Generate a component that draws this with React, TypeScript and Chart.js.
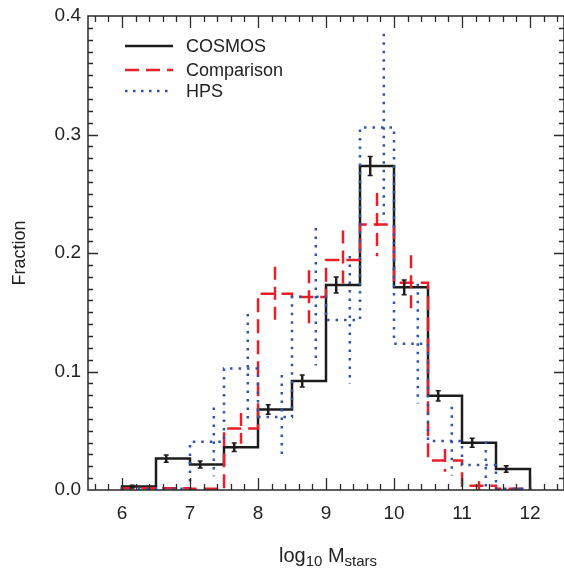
import React, { useEffect, useRef } from "react";
import { Chart, registerables } from "chart.js";

Chart.register(...registerables);

// ---------- data ----------
const binEdges = [6.0, 6.5, 7.0, 7.5, 8.0, 8.5, 9.0, 9.5, 10.0, 10.5, 11.0, 11.5, 12.0];

const cosmosValues = [0.003, 0.0265, 0.0215, 0.036, 0.068, 0.092, 0.173, 0.2735, 0.171, 0.0795, 0.0398, 0.0177];
const cosmosErrors = [0.001, 0.003, 0.003, 0.0036, 0.004, 0.005, 0.0067, 0.008, 0.0063, 0.0043, 0.0038, 0.0028];
const cosmosErrX = [6.15, 6.65, 7.15, 7.65, 8.15, 8.65, 9.15, 9.65, 10.15, 10.65, 11.15, 11.65];

const comparisonValues = [0.0015, 0.0015, 0.001, 0.052, 0.1656, 0.1628, 0.194, 0.224, 0.175, 0.025, 0.0035, 0.001];
const comparisonErrors = [0, 0, 0, 0.013, 0.0227, 0.0227, 0.025, 0.0267, 0.023, 0.0095, 0.004, 0];
const comparisonErrX = [6.25, 6.75, 7.25, 7.75, 8.25, 8.75, 9.25, 9.75, 10.25, 10.75, 11.25, 11.75];

const hpsValues = [0.001, 0.001, 0.0407, 0.1025, 0.0615, 0.163, 0.1435, 0.306, 0.1235, 0.0413, 0.021, 0.001];
const hpsErrors = [0, 0, 0.029, 0.046, 0.0355, 0.058, 0.054, 0.079, 0.0505, 0.029, 0.02, 0.001];
const hpsErrX = [6.35, 6.85, 7.35, 7.85, 8.35, 8.85, 9.35, 9.85, 10.35, 10.85, 11.35, 11.85];

const xTickValues = [6, 7, 8, 9, 10, 11, 12];
const yTickValues = [0, 0.1, 0.2, 0.3, 0.4];

const seriesLabels = ["COSMOS", "Comparison", "HPS"];

// ---------- styles ----------
const FONT = "'Liberation Sans', Arial, Helvetica, sans-serif";
const BLACK = "#1c1c1c";
const RED = "rgb(232, 30, 40)";
const BLUE = "rgb(50, 82, 172)";
const RED_DASH = [14, 7];
const BLUE_DASH = [2.5, 6];

// points at bin edges: value of bin i starts at edge i (step drawn horizontal-first)
function stepData(values: number[]) {
  const pts: { x: number; y: number }[] = [{ x: binEdges[0], y: 0 }];
  values.forEach((v, i) => pts.push({ x: binEdges[i], y: v }));
  pts.push({ x: binEdges[binEdges.length - 1], y: 0 });
  return pts;
}

const decorPlugin = {
  id: "decor",
  afterDatasetsDraw(chart: any) {
    const { ctx, chartArea: a, scales } = chart;
    const xs = scales.x;
    const ys = scales.y;
    ctx.save();

    // error bars
    const drawErr = (
      xv: number[],
      vals: number[],
      errs: number[],
      color: string,
      dash: number[],
      width: number,
      cap: number
    ) => {
      ctx.strokeStyle = color;
      ctx.lineWidth = width;
      ctx.lineCap = "butt";
      xv.forEach((xx, i) => {
        if (!errs[i]) return;
        const px = xs.getPixelForValue(xx);
        const top = ys.getPixelForValue(vals[i] + errs[i]);
        const bot = ys.getPixelForValue(Math.max(0, vals[i] - errs[i]));
        ctx.setLineDash(dash);
        ctx.beginPath();
        ctx.moveTo(px, top);
        ctx.lineTo(px, bot);
        ctx.stroke();
        if (cap > 0) {
          ctx.setLineDash([]);
          ctx.lineWidth = 1.5;
          ctx.beginPath();
          ctx.moveTo(px - cap, top);
          ctx.lineTo(px + cap, top);
          ctx.moveTo(px - cap, bot);
          ctx.lineTo(px + cap, bot);
          ctx.stroke();
          ctx.lineWidth = width;
        }
      });
    };
    drawErr(comparisonErrX, comparisonValues, comparisonErrors, RED, [13, 7], 2.5, 0);
    drawErr(hpsErrX, hpsValues, hpsErrors, BLUE, BLUE_DASH, 2.5, 0);
    drawErr(cosmosErrX, cosmosValues, cosmosErrors, BLACK, [], 2.5, 2.5);

    // frame
    ctx.setLineDash([]);
    ctx.strokeStyle = "#2a2a2a";
    ctx.lineWidth = 1.5;
    ctx.strokeRect(a.left, a.top, a.right - a.left, a.bottom - a.top);

    // ticks
    ctx.lineWidth = 1.3;
    ctx.beginPath();
    for (let i = 28; i <= 62; i++) {
      const v = i / 5;
      const major = i % 5 === 0;
      const len = major ? 12 : 6;
      const px = Math.round(xs.getPixelForValue(v)) + 0.5;
      ctx.moveTo(px, a.bottom);
      ctx.lineTo(px, a.bottom - len);
      ctx.moveTo(px, a.top);
      ctx.lineTo(px, a.top + len);
    }
    for (let i = 1; i < 40; i++) {
      const v = i / 100;
      const major = i % 10 === 0;
      const len = major ? 10 : 5;
      const py = Math.round(ys.getPixelForValue(v)) + 0.5;
      ctx.moveTo(a.left, py);
      ctx.lineTo(a.left + len, py);
      ctx.moveTo(a.right, py);
      ctx.lineTo(a.right - len, py);
    }
    ctx.stroke();

    // legend
    const legend = [
      { label: seriesLabels[0], color: BLACK, dash: [] as number[] },
      { label: seriesLabels[1], color: RED, dash: RED_DASH },
      { label: seriesLabels[2], color: BLUE, dash: [2.5, 5.5] },
    ];
    const rowY = [30, 54, 75];
    legend.forEach((it, i) => {
      const yy = a.top + rowY[i];
      ctx.strokeStyle = it.color;
      ctx.lineWidth = 2.5;
      ctx.setLineDash(it.dash);
      ctx.beginPath();
      ctx.moveTo(a.left + 37, yy);
      ctx.lineTo(a.left + 85, yy);
      ctx.stroke();
      ctx.setLineDash([]);
      ctx.fillStyle = "#222";
      ctx.font = `18px ${FONT}`;
      ctx.textAlign = "left";
      ctx.textBaseline = "middle";
      ctx.fillText(it.label, a.left + 98, yy + 1);
    });

    // y title
    ctx.save();
    ctx.translate(20, (a.top + a.bottom) / 2);
    ctx.rotate(-Math.PI / 2);
    ctx.font = `18px ${FONT}`;
    ctx.textAlign = "center";
    ctx.textBaseline = "middle";
    ctx.fillStyle = "#222";
    ctx.fillText("Fraction", 0, 0);
    ctx.restore();

    // x title: log10 Mstars with subscripts
    const parts = [
      { t: "log", size: 20, dy: 0 },
      { t: "10", size: 15, dy: 4 },
      { t: " M", size: 20, dy: 0 },
      { t: "stars", size: 15, dy: 4 },
    ];
    let total = 0;
    parts.forEach((p) => {
      ctx.font = `${p.size}px ${FONT}`;
      total += ctx.measureText(p.t).width;
    });
    let cx = (a.left + a.right) / 2 - total / 2 + 2;
    const base = 562;
    ctx.textAlign = "left";
    ctx.textBaseline = "alphabetic";
    ctx.fillStyle = "#222";
    parts.forEach((p) => {
      ctx.font = `${p.size}px ${FONT}`;
      ctx.fillText(p.t, cx, base + p.dy);
      cx += ctx.measureText(p.t).width;
    });

    ctx.restore();
  },
};

export default function App() {
  const canvasRef = useRef<HTMLCanvasElement | null>(null);

  useEffect(() => {
    if (!canvasRef.current) return;
    const common = {
      borderWidth: 2.5,
      stepped: "before",
      pointRadius: 0,
      fill: false,
      clip: false,
    };
    const chart = new Chart(canvasRef.current, {
      type: "line",
      data: {
        datasets: [
          { ...common, label: seriesLabels[0], data: stepData(cosmosValues), borderColor: BLACK, order: 3 },
          { ...common, label: seriesLabels[1], data: stepData(comparisonValues), borderColor: RED, borderDash: RED_DASH, order: 2 },
          { ...common, label: seriesLabels[2], data: stepData(hpsValues), borderColor: BLUE, borderDash: BLUE_DASH, order: 1 },
        ] as any,
      },
      options: {
        animation: false,
        responsive: true,
        maintainAspectRatio: false,
        layout: { padding: { top: 16, right: 0, left: 0, bottom: 0 } },
        plugins: { legend: { display: false }, tooltip: { enabled: false } },
        scales: {
          x: {
            type: "linear",
            min: 5.5,
            max: 12.5,
            grid: { display: false, drawTicks: false },
            border: { display: false },
            ticks: {
              padding: 12,
              color: "#222",
              font: { family: FONT, size: 19 },
              maxRotation: 0,
              callback: (v: any) => String(v),
            },
            afterBuildTicks: (s: any) => {
              s.ticks = xTickValues.map((v) => ({ value: v }));
            },
            afterFit: (s: any) => {
              s.height = 83;
              s.paddingLeft = 0;
              s.paddingRight = 0;
            },
          },
          y: {
            type: "linear",
            min: 0,
            max: 0.4,
            grid: { display: false, drawTicks: false },
            border: { display: false },
            ticks: {
              padding: 7,
              color: "#222",
              font: { family: FONT, size: 19 },
              callback: (v: any) => Number(v).toFixed(1),
            },
            afterBuildTicks: (s: any) => {
              s.ticks = yTickValues.map((v) => ({ value: v }));
            },
            afterFit: (s: any) => {
              s.width = 88;
              s.paddingTop = 0;
              s.paddingBottom = 0;
            },
          },
        },
      } as any,
      plugins: [decorPlugin],
    });
    return () => chart.destroy();
  }, []);

  return (
    <div style={{ position: "fixed", left: 0, top: 0, width: 564, height: 573, background: "#fff" }}>
      <canvas ref={canvasRef} style={{ display: "block" }} />
    </div>
  );
}
